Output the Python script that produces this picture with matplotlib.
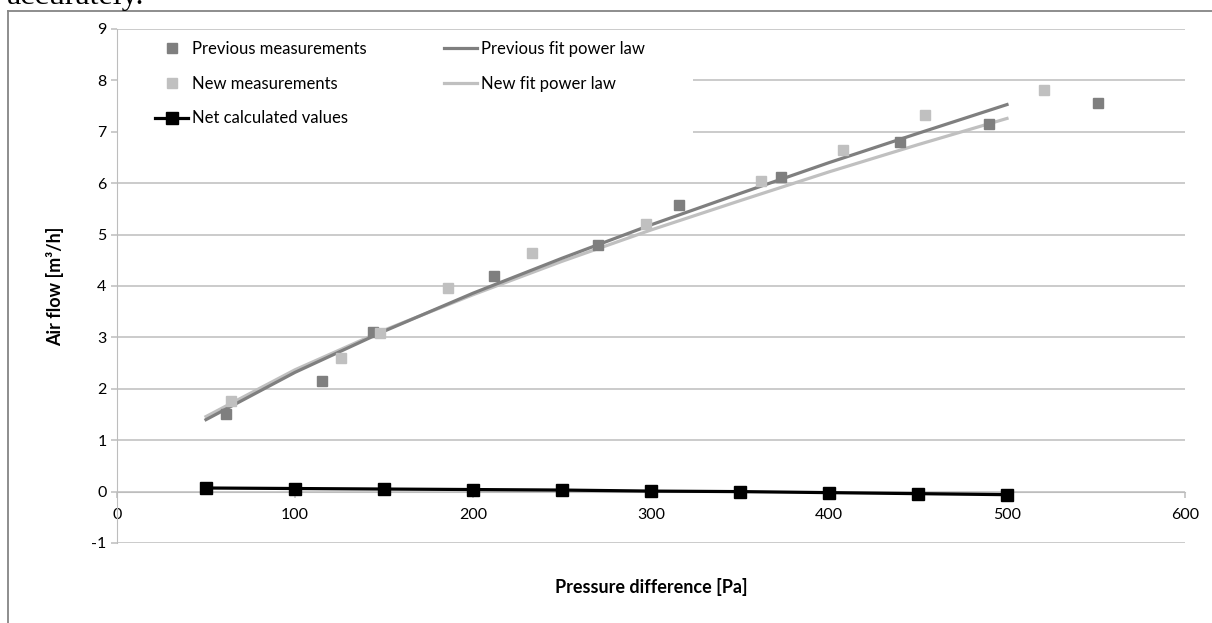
import numpy as np
import matplotlib
matplotlib.use('Agg')
import matplotlib.pyplot as plt
from matplotlib.lines import Line2D
from matplotlib.patches import Rectangle

plt.rcParams['font.family'] = ['Lato', 'DejaVu Sans']
plt.rcParams['axes.unicode_minus'] = False

prev_dp = [61, 115, 144, 212, 270, 316, 373, 440, 490, 551]
prev_q = [1.51, 2.16, 3.11, 4.19, 4.80, 5.57, 6.12, 6.80, 7.16, 7.57]
new_dp = [64, 126, 148, 186, 233, 297, 362, 408, 454, 521]
new_q = [1.76, 2.59, 3.08, 3.96, 4.64, 5.20, 6.05, 6.64, 7.33, 7.82]

# Fit curves and net values at the calculation pressures
calc_dp = [50, 100, 150, 200, 250, 300, 350, 400, 450, 500]
prev_fit = [1.40, 2.32, 3.12, 3.86, 4.54, 5.19, 5.80, 6.40, 6.97, 7.53]
new_fit = [1.46, 2.37, 3.14, 3.83, 4.48, 5.09, 5.66, 6.22, 6.75, 7.26]
net_vals = [0.07, 0.06, 0.05, 0.04, 0.03, 0.01, 0.00, -0.02, -0.04, -0.06]

W, H = 1212, 623
fig = plt.figure(figsize=(W / 100, H / 100), dpi=100)
ax = fig.add_axes([117 / W, 1 - 543 / H, (1185 - 117) / W, (543 - 29) / H])

dark = '#7f7f7f'
light = '#c0c0c0'
grid_c = '#bdbdbd'

h_pm, = ax.plot(prev_dp, prev_q, ls='none', marker='s', ms=7.5, color=dark,
                mec=dark, zorder=3, label='Previous measurements')
h_nm, = ax.plot(new_dp, new_q, ls='none', marker='s', ms=7.5, color=light,
                mec=light, zorder=3, label='New measurements')
h_pf, = ax.plot(calc_dp, prev_fit, color=dark, lw=2.3, zorder=2.5,
                label='Previous fit power law')
h_nf, = ax.plot(calc_dp, new_fit, color=light, lw=2.3, zorder=2.4,
                label='New fit power law')
h_net, = ax.plot(calc_dp, net_vals, color='black', lw=2.3, marker='s', ms=8,
                 zorder=4, label='Net calculated values')

ax.set_xlim(0, 600)
ax.set_ylim(-1, 9)
ax.set_xticks(np.arange(0, 601, 100))
ax.set_yticks(np.arange(-1, 10, 1))

ax.set_axisbelow(True)
ax.yaxis.grid(True, color=grid_c, lw=1.1)
for s in ['top', 'right']:
    ax.spines[s].set_visible(False)
ax.spines['bottom'].set_position(('data', 0))
ax.spines['bottom'].set_color(grid_c)
ax.spines['left'].set_color(grid_c)
ax.tick_params(axis='both', colors=grid_c, labelcolor='black', labelsize=11.5,
               length=4, width=1.1, direction='out')
ax.tick_params(axis='x', pad=8)

ax.set_xlabel('Pressure difference [Pa]', fontsize=13, fontweight='bold')
ax.xaxis.set_label_coords(0.5, (543 - 578) / 514, transform=ax.transAxes)
ax.set_ylabel('Air flow [m³/h]', fontsize=13, fontweight='bold')
ax.yaxis.set_label_coords((64 - 117) / 1068, 0.5, transform=ax.transAxes)

# white legend area hides the gridlines behind it
ax.add_patch(Rectangle((0, 0.78), 0.539, 0.205, transform=ax.transAxes,
                       facecolor='white', edgecolor='none', zorder=1))

leg = fig.legend(handles=[h_pm, h_nm, h_net, h_pf, h_nf], ncol=2,
                 loc='upper left', bbox_to_anchor=(155 / W, 1 - 41 / H),
                 frameon=False, fontsize=12, handlelength=2.0,
                 handletextpad=0.25, columnspacing=4.6, labelspacing=1.12,
                 borderpad=0, borderaxespad=0, numpoints=1)

# chart frame and clipped text above it
frame_c = '#858585'
fig.add_artist(Line2D([8 / W, 1], [1 - 10.5 / H, 1 - 10.5 / H], color=frame_c, lw=1.3))
fig.add_artist(Line2D([7.5 / W, 7.5 / W], [0, 1 - 10.5 / H], color=frame_c, lw=1.3))
fig.text(7 / W, 1 - 4 / H, 'accurately.', family='Liberation Serif', fontsize=23,
         va='baseline', ha='left')

fig.savefig('out.png', dpi=100)
